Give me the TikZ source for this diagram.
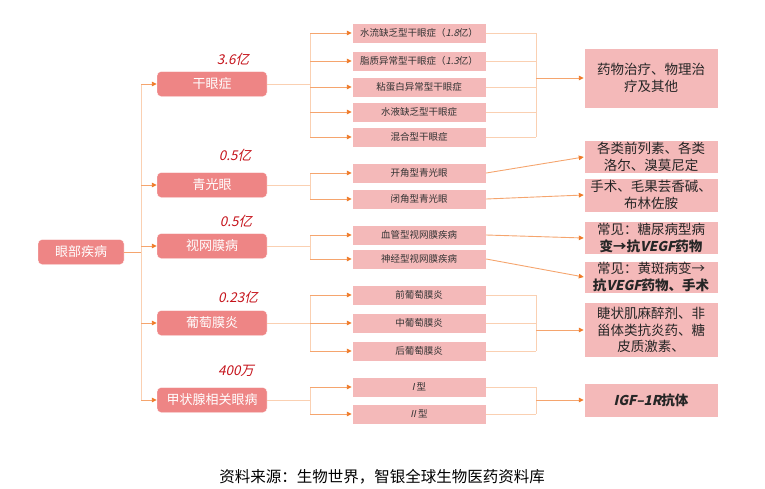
\documentclass[tikz,border=0pt]{standalone}
\usepackage{fontspec}
\setmainfont{Noto Sans CJK SC}
\newfontfamily\cjkit[FakeSlant=0.22]{Noto Sans CJK SC}
\usetikzlibrary{arrows.meta,positioning}
\definecolor{rosedark}{HTML}{EE8585}
\definecolor{roselight}{HTML}{F4B9B9}
\definecolor{peach}{HTML}{FAD0B2}
\definecolor{tangerine}{HTML}{F5A56E}
\definecolor{tipcol}{HTML}{EF7A28}
\definecolor{numred}{HTML}{C5131B}

\begin{document}
\begin{tikzpicture}[x=1pt, y=-1pt,
  disease/.style={draw=white, fill=rosedark, rounded corners=4pt, minimum width=110pt, minimum height=25pt, text=white, font=\fontsize{13}{13}\selectfont, inner sep=0pt},
  subtype/.style={draw=white, fill=roselight, minimum width=134pt, minimum height=20pt, text=black!80, font=\fontsize{9.5}{10}\selectfont, inner sep=0pt},
  therapy/.style={draw=white, fill=roselight, minimum width=134pt, minimum height=#1, text width=128pt, align=center, text=black!85, font=\fontsize{13.5}{16.5}\selectfont, inner sep=0pt},
  num/.style={text=numred, font=\cjkit\fontsize{13.5}{13.5}\selectfont},
  ln/.style={peach, line width=0.9pt},
  arr/.style={-{Triangle[length=5pt, width=4.5pt, color=tipcol]}, tangerine, line width=0.9pt},
]
\useasboundingbox (0,0) rectangle (765,488);
% root and first level
\node[disease, minimum width=86pt] (root) at (81,252) {眼部疾病};
\node[disease] (dry) at (212,84)  {干眼症};
\node[disease] (gl)  at (212,185) {青光眼};
\node[disease] (ret) at (212,246) {视网膜病};
\node[disease] (uv)  at (212,323) {葡萄膜炎};
\node[disease] (th)  at (212,400) {甲状腺相关眼病};
% prevalence
\node[num] (ndry) at (233,59)  {3.6亿};
\node[num] (ngl)  at (235,155) {0.5亿};
\node[num] (nret) at (236,221) {0.5亿};
\node[num] (nuv)  at (238,297) {0.23亿};
\node[num] (nth)  at (236,371) {400万};
% trunk
\coordinate (trunk) at (141,252);
\draw[arr, -] (root.east) -- (trunk);
\draw[ln] (trunk |- dry) -- (trunk |- th);
\foreach \d in {dry, gl, ret, uv, th} \draw[arr] (trunk |- \d) -- (\d.west);
% second level
\node[subtype] (dry1) at (419,33)  {水流缺乏型干眼症（{\cjkit 1.8}亿）};
\node[subtype] (dry2) at (419,61)  {脂质异常型干眼症（{\cjkit 1.3}亿）};
\node[subtype] (dry3) at (419,87)  {粘蛋白异常型干眼症};
\node[subtype] (dry4) at (419,112) {水液缺乏型干眼症};
\node[subtype] (dry5) at (419,137) {混合型干眼症};
\node[subtype] (gl1)  at (419,173) {开角型青光眼};
\node[subtype] (gl2)  at (419,199) {闭角型青光眼};
\node[subtype] (ret1) at (419,235) {血管型视网膜疾病};
\node[subtype] (ret2) at (419,259) {神经型视网膜疾病};
\node[subtype] (uv1)  at (419,295) {前葡萄膜炎};
\node[subtype] (uv2)  at (419,323) {中葡萄膜炎};
\node[subtype] (uv3)  at (419,351) {后葡萄膜炎};
\node[subtype] (th1)  at (419,387) {{\cjkit I} 型};
\node[subtype] (th2)  at (419,414) {{\cjkit II} 型};
% split from first level
\coordinate (split) at (310,0);
\foreach \d/\a/\b/\kids in {dry/dry1/dry5/{dry1,dry2,dry3,dry4,dry5}, gl/gl1/gl2/{gl1,gl2}, ret/ret1/ret2/{ret1,ret2}, uv/uv1/uv3/{uv1,uv2,uv3}, th/th1/th2/{th1,th2}} {
  \draw[ln] (\d.east) -- (split |- \d);
  \draw[ln] (split |- \a) -- (split |- \b);
  \foreach \k in \kids \draw[arr] (split |- \k) -- (\k.west);
}
% treatments
\node[therapy=60pt] (tdry)  at (651,78)  {药物治疗、物理治\\疗及其他};
\node[therapy=33pt] (tgl1)  at (651,157) {各类前列素、各类\\洛尔、溴莫尼定};
\node[therapy=34pt] (tgl2)  at (651,195) {手术、毛果芸香碱、\\布林佐胺};
\node[therapy=33pt] (tret1) at (651,238) {常见：糖尿病型病\\\textbf{变→抗{\cjkit VEGF}药物}};
\node[therapy=32pt] (tret2) at (651,277) {常见：黄斑病变→\\\textbf{抗{\cjkit VEGF}药物、手术}};
\node[therapy=55pt] (tuv)   at (651,330) {睫状肌麻醉剂、非\\甾体类抗炎药、糖\\皮质激素、};
\node[therapy=34pt] (tth)   at (651,400) {\textbf{{\cjkit IGF–1R}抗体}};
% merge into treatments
\coordinate (merge) at (536,0);
\foreach \t/\a/\b/\kids in {tdry/dry1/dry5/{dry1,dry2,dry3,dry4,dry5}, tuv/uv1/uv3/{uv1,uv2,uv3}, tth/th1/th2/{th1,th2}} {
  \foreach \k in \kids \draw[ln] (\k.east) -- (merge |- \k);
  \draw[ln] (merge |- \a) -- (merge |- \b);
  \draw[arr] (merge |- \t) -- (\t.west);
}
\foreach \a/\b in {gl1/tgl1, gl2/tgl2, ret1/tret1, ret2/tret2} \draw[arr] (\a.east) -- (\b.west);
% source
\node[font=\fontsize{15.5}{15.5}\selectfont, text=black] (src) at (382,477) {资料来源：生物世界，智银全球生物医药资料库};
\end{tikzpicture}
\end{document}
